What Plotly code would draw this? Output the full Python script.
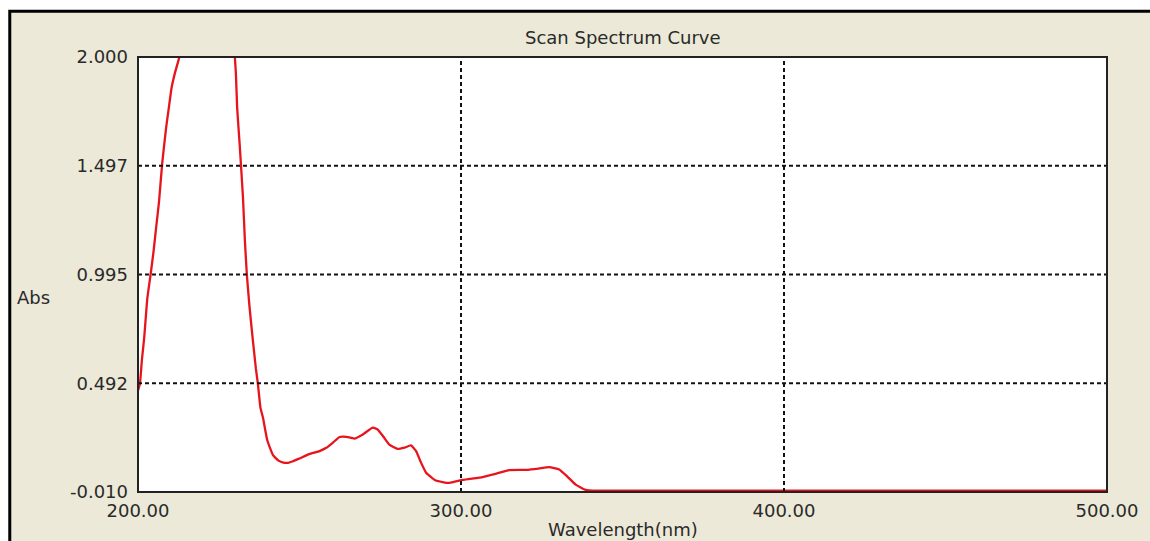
import plotly.graph_objects as go

# ---- data ----
wavelength = [200.0, 200.6, 201.2, 201.9, 202.9, 203.9, 204.8, 205.6, 206.5, 207.5,
              208.7, 209.5, 210.4, 211.5, 212.8, 214.0, 218.0, 222.0, 226.0, 229.5,
              230.3, 230.7, 231.5, 232.5, 233.1, 233.7, 234.5, 235.5, 236.5, 237.1,
              237.9, 238.7, 240.0, 241.8, 243.5, 245.0, 246.5, 248.0, 250.0, 253.0,
              256.2, 258.3, 260.5, 262.4, 264.5, 267.0, 269.6, 272.7, 274.2, 276.0,
              277.8, 280.4, 282.5, 284.5, 286.1, 287.5, 289.2, 292.2, 296.4, 300.5,
              306.7, 311.0, 314.9, 320.1, 324.0, 327.3, 330.4, 333.0, 335.5, 338.6,
              342.0, 360.0, 400.0, 450.0, 500.0]
absorbance = [0.46, 0.49, 0.60, 0.70, 0.887, 0.995, 1.10, 1.21, 1.33, 1.51,
              1.673, 1.76, 1.858, 1.93, 2.00, 2.15, 2.5, 2.6, 2.4, 2.08,
              1.926, 1.765, 1.59, 1.35, 1.15, 0.995, 0.85, 0.70, 0.56, 0.492,
              0.38, 0.333, 0.23, 0.160, 0.135, 0.126, 0.125, 0.132, 0.145, 0.165,
              0.179, 0.194, 0.220, 0.244, 0.245, 0.237, 0.256, 0.287, 0.279, 0.245,
              0.209, 0.189, 0.195, 0.205, 0.179, 0.13, 0.079, 0.043, 0.032, 0.046,
              0.059, 0.075, 0.091, 0.092, 0.098, 0.105, 0.094, 0.060, 0.024, 0.0,
              -0.004, -0.004, -0.004, -0.004, -0.004]

x_ticks = [200, 300, 400, 500]
x_tick_labels = ["200.00", "300.00", "400.00", "500.00"]
y_ticks = [-0.010, 0.492, 0.995, 1.497, 2.000]
y_tick_labels = ["-0.010", "0.492", "0.995", "1.497", "2.000"]

title_text = "Scan Spectrum Curve"
x_title = "Wavelength(nm)"
y_title = "Abs"

# ---- layout geometry (page margin removed by post script) ----
W, H = 1150, 541
L, R, T, B = 138, 1109, 57, 492
pw, ph = R - L, B - T

def px(xp):
    return (xp - L) / pw

def py(yp):
    return (B - yp) / ph

BEIGE = "#ECE9D8"
FONT = "DejaVu Sans"
TXT = "#2a2a2a"
FS = 18

fig = go.Figure()
fig.add_trace(go.Scatter(x=wavelength, y=absorbance, mode="lines",
                         line=dict(color="#E8141C", width=2.3, shape="spline",
                                   smoothing=0.4),
                         hoverinfo="skip", showlegend=False))

# dotted grid lines
grid_style = dict(color="#111111", width=2, dash="4px,3px")
for xv in x_ticks[1:-1]:
    fig.add_shape(type="line", xref="x", yref="paper", x0=xv, x1=xv, y0=0, y1=1,
                  line=grid_style, layer="above")
for yv in y_ticks[1:-1]:
    fig.add_shape(type="line", xref="paper", yref="y", x0=0, x1=1, y0=yv, y1=yv,
                  line=grid_style, layer="above")

# beige window background with black outer border (left & top)
fig.add_shape(type="rect", xref="paper", yref="paper", x0=px(9.5), x1=px(1400),
              y0=py(800), y1=py(11.3), fillcolor=BEIGE,
              line=dict(color="black", width=3), layer="below")
# white plot area
fig.add_shape(type="rect", xref="paper", yref="paper", x0=0, x1=1, y0=0, y1=1,
              fillcolor="white", line=dict(width=0), layer="below")
# plot frame
fig.add_shape(type="rect", xref="paper", yref="paper", x0=0, x1=1, y0=0, y1=1,
              line=dict(color="#222222", width=2), layer="above")

# titles
fig.add_annotation(text=title_text, xref="paper", yref="paper",
                   x=px(624), y=py(38), showarrow=False,
                   font=dict(family=FONT, size=FS, color=TXT),
                   xanchor="center", yanchor="middle")
fig.add_annotation(text=x_title, xref="paper", yref="paper",
                   x=px(624), y=py(529), showarrow=False,
                   font=dict(family=FONT, size=FS, color=TXT),
                   xanchor="center", yanchor="middle")
fig.add_annotation(text=y_title, xref="paper", yref="paper",
                   x=px(15), y=py(297), showarrow=False,
                   font=dict(family=FONT, size=FS, color=TXT),
                   xanchor="left", yanchor="middle")

fig.update_layout(
    width=W, height=H,
    margin=dict(l=L, r=W - R, t=T, b=H - B, pad=0),
    paper_bgcolor="white",
    plot_bgcolor="white",
    showlegend=False,
    font=dict(family=FONT, size=FS, color=TXT),
)
fig.update_xaxes(range=[200, 500], tickvals=x_ticks, ticktext=x_tick_labels,
                 showgrid=False, zeroline=False, showline=False,
                 ticks="", ticklabelstandoff=6,
                 tickfont=dict(family=FONT, size=FS, color=TXT))
fig.update_yaxes(range=[-0.010, 2.000], tickvals=y_ticks, ticktext=y_tick_labels,
                 showgrid=False, zeroline=False, showline=False,
                 ticks="", ticklabelstandoff=9,
                 tickfont=dict(family=FONT, size=FS, color=TXT))

fig.write_html(
    "out.html",
    config={"displayModeBar": False},
    post_script="document.body.style.margin='0';document.body.style.overflow='hidden';",
)
